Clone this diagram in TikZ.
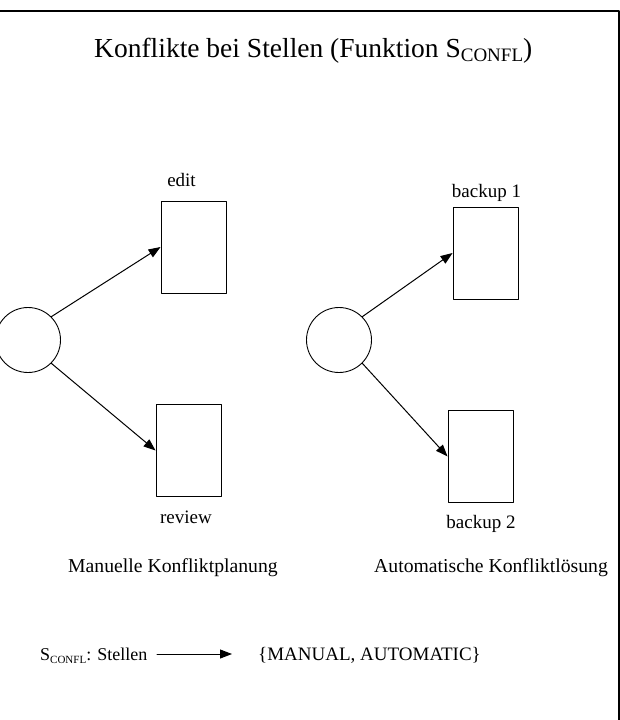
\documentclass[tikz,border=0pt]{standalone}
\usepackage{fontspec}
\setmainfont{Liberation Serif}
\usetikzlibrary{arrows.meta}
\newcommand{\sconfl}[2]{S\raisebox{-#2}{\fontsize{#1}{#1}\selectfont CONFL}}
\tikzset{
  place/.style={draw,circle,minimum size=65pt,inner sep=0pt,line width=0.9pt},
  trans/.style={draw,rectangle,minimum width=65pt,minimum height=92pt,inner sep=0pt,line width=0.9pt},
  lbl/.style={anchor=base,inner sep=0pt,font=\fontsize{19}{19}\selectfont},
  arc/.style={line width=1pt,-{Triangle[length=12pt,width=9pt]}}
}
\begin{document}
\begin{tikzpicture}[x=1pt,y=-1pt,line join = round, line cap = round]
			\useasboundingbox (0,0) rectangle (620,720);
			\draw[line width=2pt,line cap=rect] (-10,11) -- (618.5,11) -- (618.5,730);
			\node[anchor=base west,inner sep=0pt,font=\fontsize{27.5}{27.5}\selectfont] (title) at (94,57) {Konflikte bei Stellen (Funktion \sconfl{19}{4pt})};
			% manuelle Konfliktplanung
			\node[place] (pm) at (28,340) {};
			\node[trans] (edit) at (193.5,247) {};
			\node[trans] (review) at (188.5,450.5) {};
			\node[lbl] (ledit) at (181.5,186.5) {edit};
			\node[lbl] (lreview) at (186,523) {review};
			\draw[arc] (pm.45) -- (edit.west);
			\draw[arc] (pm.-45) -- (review.west);
			% automatische Konfliktloesung
			\node[place] (pa) at (339,340) {};
			\node[trans] (bup1) at (485.5,253) {};
			\node[trans] (bup2) at (480.5,456.5) {};
			\node[lbl] (lbup1) at (486.5,197) {backup 1};
			\node[lbl] (lbup2) at (481,528) {backup 2};
			\draw[arc] (pa.45) -- (bup1.west);
			\draw[arc] (pa.-45) -- (bup2.west);
			% captions
			\node[lbl,anchor=base west,font=\fontsize{19.7}{19.7}\selectfont] (cman) at (68,572) {Manuelle Konfliktplanung};
			\node[lbl,anchor=base west,font=\fontsize{19.7}{19.7}\selectfont] (caut) at (374,572) {Automatische Konfliktlösung};
			% function
			\node[lbl,anchor=base west,font=\fontsize{18}{18}\selectfont] (dom) at (40,660) {\sconfl{11}{3pt}: Stellen};
			\node[lbl,anchor=base west] (cod) at (258,660) {\{MANUAL, AUTOMATIC\}};
			\coordinate (fa) at (157,654);
			\coordinate (fb) at (232,654);
			\draw[arc] (fa) -- (fb);
		\end{tikzpicture}
\end{document}
